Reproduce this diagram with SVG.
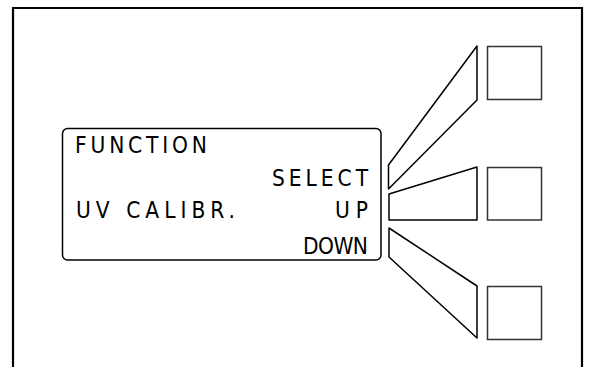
<svg xmlns="http://www.w3.org/2000/svg" width="589" height="367" viewBox="0 0 589 367">
<style>
.ln{fill:none;stroke:#000;stroke-width:1.5;stroke-linejoin:round}
.bx{fill:none;stroke:#333;stroke-width:1.5}
.t{font-family:"Liberation Sans Narrow","DejaVu Sans Condensed","Liberation Sans",Arial,sans-serif;font-stretch:condensed;font-size:22.5px;fill:#000}
</style>
<rect width="589" height="367" fill="#fff"/>
<path d="M13,367 V8 H582 V367" fill="none" stroke="#000" stroke-width="2.2"/>
<g id="display">
<rect class="ln" x="62.5" y="128.5" width="318.5" height="131.5" rx="5"/>
<text class="t" x="75" y="153" textLength="132" lengthAdjust="spacing">FUNCTION</text>
<text class="t" x="272" y="186" textLength="96" lengthAdjust="spacing">SELECT</text>
<text class="t" x="76" y="218" textLength="159" lengthAdjust="spacing">UV CALIBR.</text>
<text class="t" x="335" y="218" textLength="33" lengthAdjust="spacing">UP</text>
<text class="t" x="303" y="254" textLength="65" lengthAdjust="spacing">DOWN</text>
</g>
<g id="connectors">
<polygon class="ln" points="477,46 477,100 388.5,189 388.5,165"/>
<polygon class="ln" points="389,194 477,167 477,220 389,220"/>
<polygon class="ln" points="389,228 477,286 477,338 389,257"/>
</g>
<g id="btn-select"><rect class="bx" x="487.5" y="46.5" width="54" height="53"/></g>
<g id="btn-up"><rect class="bx" x="487.5" y="167.5" width="54" height="52.5"/></g>
<g id="btn-down"><rect class="bx" x="487.5" y="286.5" width="54" height="53"/></g>
</svg>
